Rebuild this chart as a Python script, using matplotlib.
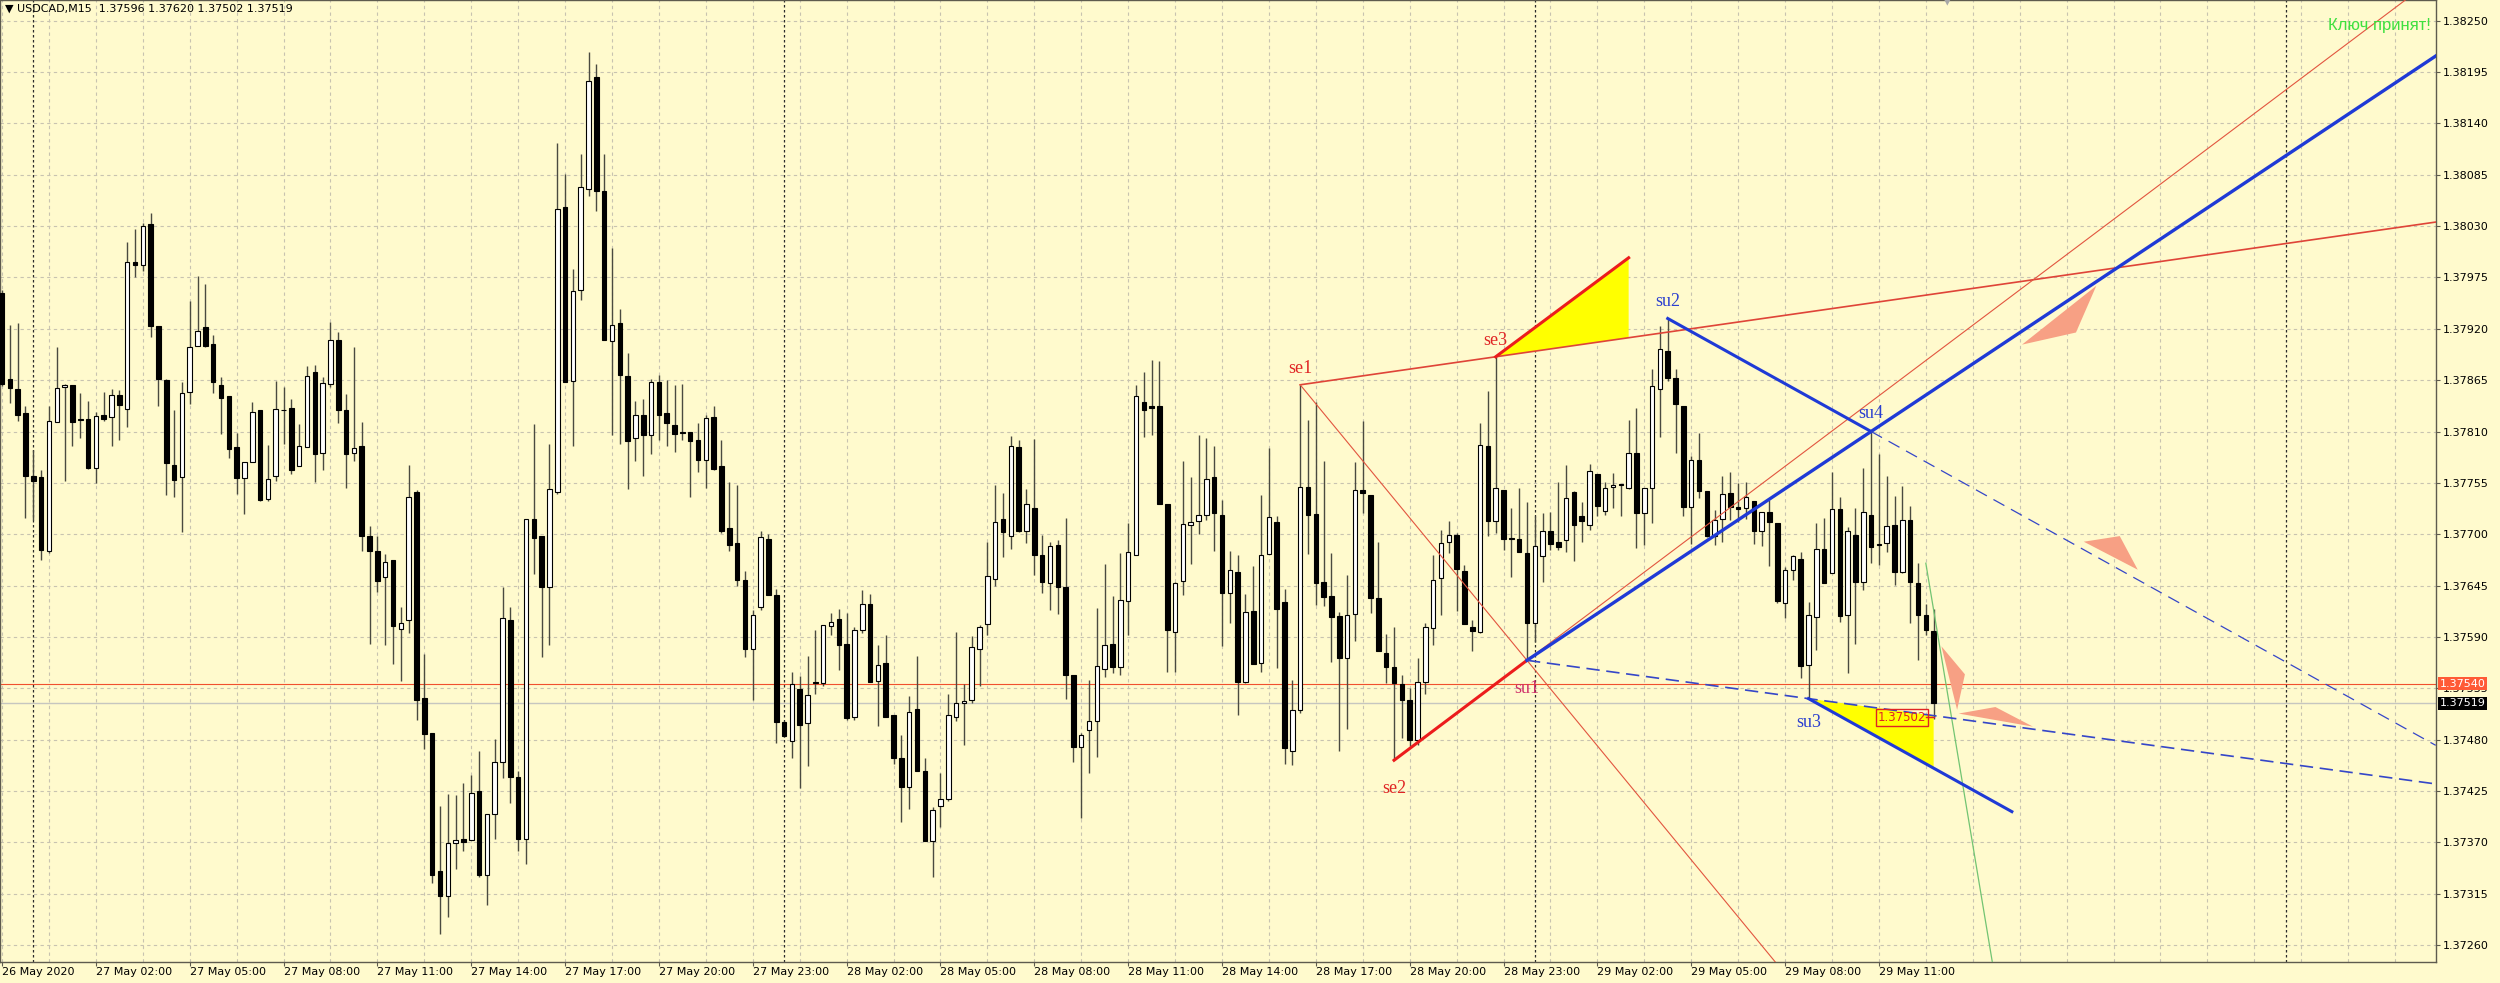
import matplotlib
matplotlib.use("Agg")
import matplotlib.pyplot as plt

# USDCAD M15, prices in points (1.37596 -> 137596), bar 0 = 26 May 23:00
opens = [
    137958, 137866, 137856, 137830, 137762, 137761, 137682, 137820, 137858, 137860, 137823, 137823,
    137771, 137828, 137825, 137849, 137834, 137991, 137988, 138032, 137923, 137865, 137774, 137761,
    137852, 137902, 137922, 137904, 137860, 137848, 137793, 137760, 137777, 137833, 137738, 137762,
    137833, 137835, 137773, 137793, 137874, 137787, 137861, 137908, 137833, 137787, 137795, 137698,
    137682, 137654, 137672, 137599, 137608, 137745, 137525, 137487, 137339, 137313, 137369, 137374,
    137373, 137425, 137335, 137400, 137456, 137608, 137440, 137374, 137716, 137698, 137644, 137745,
    138050, 137864, 137962, 138070, 138190, 138067, 137907, 137926, 137869, 137803, 137828, 137806,
    137863, 137830, 137817, 137809, 137810, 137801, 137779, 137825, 137773, 137707, 137691, 137651,
    137577, 137622, 137695, 137635, 137499, 137479, 137534, 137498, 137542, 137541, 137602, 137609,
    137582, 137504, 137597, 137625, 137543, 137562, 137506, 137460, 137429, 137513, 137446, 137372,
    137409, 137416, 137504, 137519, 137522, 137577, 137604, 137652, 137716, 137698, 137793, 137703,
    137728, 137678, 137648, 137688, 137643, 137549, 137472, 137490, 137500, 137556, 137582, 137558,
    137628, 137678, 137842, 137837, 137837, 137732, 137595, 137650, 137710, 137714, 137721, 137761,
    137721, 137637, 137660, 137542, 137618, 137562, 137679, 137713, 137627, 137468, 137512, 137751,
    137722, 137649, 137634, 137612, 137567, 137615, 137747, 137742, 137632, 137573, 137558, 137540,
    137522, 137480, 137542, 137600, 137653, 137692, 137699, 137661, 137601, 137595, 137795, 137714,
    137747, 137696, 137695, 137680, 137605, 137677, 137703, 137692, 137694, 137745, 137719, 137710,
    137765, 137725, 137751, 137754, 137749, 137787, 137723, 137749, 137856, 137896, 137867, 137837,
    137729, 137779, 137746, 137698, 137716, 137744, 137729, 137728, 137736, 137704, 137724, 137712,
    137626, 137662, 137673, 137560, 137611, 137684, 137658, 137727, 137613, 137699, 137649, 137721,
    137690, 137691, 137710, 137660, 137715, 137648, 137614, 137596,
]
highs = [
    137961, 137924, 137926, 137837, 137790, 137769, 137837, 137900, 137861, 137860, 137851, 137843,
    137831, 137852, 137855, 137854, 138013, 138027, 138033, 138044, 137923, 137866, 137833, 137863,
    137950, 137976, 137968, 137913, 137868, 137848, 137808, 137777, 137842, 137833, 137796, 137864,
    137858, 137845, 137818, 137880, 137881, 137868, 137927, 137916, 137850, 137901, 137820, 137709,
    137698, 137679, 137672, 137622, 137774, 137747, 137572, 137487, 137409, 137422, 137421, 137434,
    137442, 137468, 137400, 137481, 137644, 137622, 137447, 137716, 137818, 137698, 137797, 138119,
    138086, 137984, 138107, 138216, 138204, 138107, 138007, 137941, 137894, 137843, 137845, 137866,
    137870, 137865, 137860, 137861, 137810, 137819, 137828, 137837, 137801, 137756, 137753, 137661,
    137619, 137703, 137700, 137641, 137500, 137553, 137548, 137570, 137598, 137603, 137616, 137620,
    137616, 137601, 137640, 137636, 137581, 137592, 137506, 137485, 137527, 137570, 137460, 137408,
    137444, 137529, 137595, 137540, 137591, 137603, 137692, 137753, 137744, 137805, 137801, 137748,
    137802, 137699, 137692, 137694, 137717, 137549, 137487, 137544, 137621, 137668, 137634, 137680,
    137712, 137860, 137874, 137887, 137885, 137732, 137649, 137778, 137761, 137806, 137803, 137794,
    137737, 137682, 137678, 137636, 137666, 137742, 137792, 137720, 137641, 137544, 137860, 137822,
    137842, 137778, 137680, 137617, 137656, 137777, 137821, 137742, 137692, 137593, 137601, 137549,
    137535, 137568, 137605, 137678, 137705, 137714, 137701, 137667, 137608, 137819, 137853, 137890,
    137747, 137728, 137750, 137735, 137720, 137723, 137724, 137756, 137774, 137746, 137735, 137775,
    137765, 137756, 137766, 137754, 137822, 137835, 137749, 137877, 137923, 137931, 137877, 137837,
    137784, 137808, 137746, 137726, 137762, 137767, 137755, 137756, 137736, 137724, 137737, 137712,
    137665, 137678, 137681, 137627, 137712, 137717, 137767, 137740, 137708, 137728, 137771, 137810,
    137786, 137762, 137741, 137752, 137730, 137669, 137625, 137620,
]
lows = [
    137859, 137841, 137821, 137717, 137715, 137672, 137680, 137820, 137757, 137794, 137803, 137770,
    137755, 137821, 137794, 137801, 137815, 137975, 137982, 137911, 137837, 137742, 137740, 137702,
    137839, 137902, 137901, 137851, 137807, 137782, 137743, 137722, 137777, 137736, 137736, 137757,
    137797, 137765, 137773, 137793, 137756, 137769, 137858, 137819, 137750, 137778, 137682, 137583,
    137638, 137581, 137561, 137543, 137594, 137501, 137470, 137327, 137272, 137290, 137342, 137361,
    137373, 137333, 137303, 137374, 137439, 137412, 137361, 137347, 137657, 137569, 137581, 137743,
    137863, 137795, 137951, 138062, 138046, 137908, 137806, 137797, 137748, 137778, 137762, 137786,
    137801, 137794, 137788, 137801, 137740, 137767, 137750, 137769, 137701, 137682, 137645, 137569,
    137522, 137619, 137635, 137477, 137483, 137460, 137428, 137452, 137529, 137538, 137592, 137555,
    137501, 137501, 137594, 137542, 137495, 137504, 137454, 137392, 137406, 137446, 137372, 137333,
    137387, 137414, 137500, 137474, 137519, 137538, 137592, 137645, 137676, 137684, 137702, 137691,
    137656, 137637, 137619, 137615, 137524, 137456, 137396, 137444, 137462, 137547, 137551, 137549,
    137592, 137678, 137804, 137806, 137732, 137552, 137553, 137635, 137668, 137700, 137715, 137682,
    137580, 137605, 137506, 137541, 137561, 137553, 137679, 137557, 137454, 137453, 137509, 137679,
    137624, 137623, 137563, 137468, 137491, 137586, 137723, 137616, 137575, 137541, 137458, 137482,
    137473, 137474, 137529, 137581, 137614, 137680, 137618, 137604, 137575, 137594, 137698, 137701,
    137683, 137654, 137681, 137565, 137585, 137649, 137683, 137683, 137681, 137671, 137692, 137705,
    137720, 137721, 137728, 137719, 137748, 137685, 137688, 137712, 137804, 137864, 137787, 137719,
    137690, 137739, 137697, 137688, 137692, 137715, 137713, 137716, 137690, 137687, 137666, 137626,
    137610, 137651, 137546, 137524, 137576, 137648, 137658, 137606, 137551, 137583, 137640, 137669,
    137667, 137681, 137646, 137659, 137605, 137565, 137592, 137502,
]
closes = [
    137861, 137857, 137828, 137762, 137757, 137683, 137821, 137857, 137860, 137820, 137822, 137771,
    137827, 137823, 137849, 137838, 137992, 137988, 138030, 137923, 137866, 137776, 137758, 137851,
    137901, 137918, 137902, 137863, 137846, 137791, 137760, 137777, 137831, 137737, 137759, 137834,
    137833, 137769, 137794, 137869, 137786, 137862, 137908, 137833, 137786, 137792, 137698, 137682,
    137650, 137670, 137602, 137605, 137740, 137523, 137486, 137335, 137313, 137369, 137373, 137371,
    137423, 137335, 137400, 137456, 137610, 137440, 137374, 137716, 137696, 137643, 137748, 138048,
    137863, 137960, 138072, 138185, 138067, 137908, 137924, 137870, 137800, 137828, 137806, 137863,
    137828, 137819, 137807, 137808, 137800, 137779, 137824, 137770, 137704, 137689, 137651, 137577,
    137613, 137697, 137635, 137499, 137484, 137540, 137496, 137528, 137541, 137603, 137606, 137581,
    137503, 137598, 137625, 137542, 137560, 137504, 137460, 137429, 137510, 137446, 137372, 137405,
    137416, 137506, 137519, 137521, 137579, 137601, 137655, 137713, 137702, 137794, 137704, 137732,
    137678, 137649, 137687, 137643, 137549, 137472, 137485, 137500, 137559, 137581, 137558, 137630,
    137681, 137848, 137833, 137835, 137732, 137597, 137648, 137711, 137713, 137721, 137759, 137723,
    137637, 137662, 137542, 137617, 137561, 137678, 137718, 137620, 137471, 137512, 137751, 137721,
    137648, 137633, 137611, 137567, 137614, 137747, 137744, 137632, 137575, 137558, 137541, 137522,
    137480, 137542, 137601, 137651, 137691, 137699, 137663, 137604, 137596, 137796, 137714, 137749,
    137695, 137695, 137681, 137605, 137687, 137703, 137690, 137686, 137739, 137710, 137714, 137768,
    137730, 137749, 137753, 137753, 137787, 137723, 137749, 137859, 137898, 137867, 137839, 137729,
    137780, 137746, 137698, 137715, 137743, 137729, 137727, 137740, 137703, 137724, 137713, 137628,
    137662, 137677, 137559, 137613, 137684, 137648, 137727, 137612, 137703, 137649, 137724, 137686,
    137688, 137709, 137660, 137715, 137649, 137613, 137598, 137519,
]

time_tick_bars = [0, 12, 24, 36, 48, 60, 72, 84, 96, 108, 120, 132, 144, 156, 168, 180, 192, 204, 216, 228, 240]
time_tick_labels = [
    "26 May 2020", "27 May 02:00", "27 May 05:00", "27 May 08:00", "27 May 11:00", "27 May 14:00",
    "27 May 17:00", "27 May 20:00", "27 May 23:00", "28 May 02:00", "28 May 05:00", "28 May 08:00",
    "28 May 11:00", "28 May 14:00", "28 May 17:00", "28 May 20:00", "28 May 23:00", "29 May 02:00",
    "29 May 05:00", "29 May 08:00", "29 May 11:00",
]
day_sep_bars = [4, 100, 196, 292]
price_ticks = [1.37260, 1.37315, 1.37370, 1.37425, 1.37480, 1.37535, 1.37590, 1.37645, 1.37700,
               1.37755, 1.37810, 1.37865, 1.37920, 1.37975, 1.38030, 1.38085, 1.38140, 1.38195, 1.38250]
ask_price = 1.37540
bid_price = 1.37519

# pivot points of the drawn pattern
pivot_names = ["se1", "se2", "se3", "su1", "su2", "su3", "su4"]
pivot_bars = [166, 178, 191, 195, 213, 231, 239]
pivot_prices = [1.37860, 1.37458, 1.37890, 1.37565, 1.37931, 1.37524, 1.37810]
label_prices = [1.37877, 1.37428, 1.37907, 1.37535, 1.37949, 1.37498, 1.37829]
label_colors = ["#e02424", "#e02424", "#e02424", "#d0306a", "#2b3fd0", "#2b3fd0", "#2b3fd0"]

se3_target_bar, se3_target_price = 208, 1.37996
su3_channel_end_bar = 257
low_box_bar, low_box_price, low_value = 242.9, 1.37504, "1.37502"
green_bars = [246, 255]
green_prices = [1.37669, 1.37217]

arrow_bars = [[258.3, 267.8, 265.2], [266.2, 270.8, 273.1], [248.0, 251.0, 250.0], [250.2, 254.9, 259.7]]
arrow_prices = [[1.37903, 1.37966, 1.37916], [1.37692, 1.37698, 1.37662],
                [1.37580, 1.37550, 1.37512], [1.37508, 1.37515, 1.37494]]
top_marker_bars = [248.0, 249.5, 248.75]
top_marker_prices = [1.38278, 1.38278, 1.38266]

BG = "#fffacd"
GRID = "#c8c3b0"
AXC = "#5e5b4e"
RED = "#ec1c1c"
THIN_RED = "#e2553f"
BLUE = "#1f3ad6"
DBLUE = "#3546c8"
XMAX = 311.2


def pt(v):
    return v / 100000.0


def ray_point(i, j, bar):
    # price on the line through pivots i and j at a given bar
    b0, p0 = pivot_bars[i], pivot_prices[i]
    b1, p1 = pivot_bars[j], pivot_prices[j]
    return p0 + (p1 - p0) * (bar - b0) / (b1 - b0)


fig = plt.figure(figsize=(25, 9.83), dpi=100)
fig.patch.set_facecolor(BG)
ax = fig.add_axes([0.0, 0.02136, 0.97428, 0.97864])
ax.set_facecolor(BG)
ax.set_xlim(-0.26, XMAX)
ax.set_ylim(1.37242, 1.38272)

# grid
for p in price_ticks:
    ax.axhline(p, color=GRID, lw=0.8, ls=(0, (3, 3)), zorder=0)
for b in range(0, 312, 6):
    ax.axvline(b, color=GRID, lw=0.8, ls=(0, (3, 3)), zorder=0)
for b in day_sep_bars:
    ax.axvline(b, color="#2a2a2a", lw=0.9, ls=(0, (2, 2)), zorder=0.5)

ax.axhline(ask_price, color="#f0502e", lw=0.8, zorder=1)
ax.axhline(bid_price, color="#c6c6c0", lw=1.0, zorder=1)

# yellow zones
se1, se2, se3, su1, su2, su3, su4 = range(7)
ax.fill([pivot_bars[se3], se3_target_bar, se3_target_bar],
        [pivot_prices[se3], se3_target_price, ray_point(se1, se3, se3_target_bar)],
        color="#ffff00", lw=0, zorder=1.5)
slope_su24 = (pivot_prices[su4] - pivot_prices[su2]) / (pivot_bars[su4] - pivot_bars[su2])
last_bar = len(closes) - 1
ax.fill([pivot_bars[su3], last_bar, last_bar],
        [pivot_prices[su3], ray_point(su1, su3, last_bar),
         pivot_prices[su3] + slope_su24 * (last_bar - pivot_bars[su3])],
        color="#ffff00", lw=0, zorder=1.5)

# candles
xs = list(range(len(closes)))
o = [pt(v) for v in opens]
h = [pt(v) for v in highs]
l = [pt(v) for v in lows]
c = [pt(v) for v in closes]
ax.vlines(xs, l, h, colors="#4a4a40", lw=1.0, zorder=2.5)
body_bottom = [min(a, b) for a, b in zip(o, c)]
body_height = [abs(b - a) for a, b in zip(o, c)]
body_color = ["white" if b > a else "black" for a, b in zip(o, c)]
ax.bar(xs, body_height, bottom=body_bottom, width=0.58, color=body_color,
       edgecolor="black", linewidth=0.8, zorder=3)

# trend lines
ax.plot([pivot_bars[se1], XMAX], [pivot_prices[se1], ray_point(se1, se3, XMAX)],
        color="#df4438", lw=1.2, zorder=4)
ax.plot([pivot_bars[se1], 240], [pivot_prices[se1], ray_point(se1, su1, 240)],
        color=THIN_RED, lw=0.8, zorder=4)
ax.plot([pivot_bars[su1], 320], [pivot_prices[su1], ray_point(se2, su1, 320)],
        color=THIN_RED, lw=0.8, zorder=4)
ax.plot([pivot_bars[se2], pivot_bars[su1]], [pivot_prices[se2], pivot_prices[su1]],
        color=RED, lw=2.2, zorder=4.2)
ax.plot([pivot_bars[se3], se3_target_bar], [pivot_prices[se3], se3_target_price],
        color=RED, lw=2.2, zorder=4.2)
ax.plot([pivot_bars[su1], XMAX], [pivot_prices[su1], ray_point(su1, su4, XMAX)],
        color=BLUE, lw=2.4, zorder=4.3)
ax.plot([pivot_bars[su2], pivot_bars[su4]], [pivot_prices[su2], pivot_prices[su4]],
        color=BLUE, lw=2.2, zorder=4.3)
ax.plot([pivot_bars[su4], XMAX], [pivot_prices[su4], ray_point(su2, su4, XMAX)],
        color=DBLUE, lw=0.9, ls=(0, (10, 6)), zorder=4.3)
ax.plot([pivot_bars[su1], XMAX], [pivot_prices[su1], ray_point(su1, su3, XMAX)],
        color=DBLUE, lw=1.2, ls=(0, (8, 4)), zorder=4.3)
ax.plot([pivot_bars[su3], su3_channel_end_bar],
        [pivot_prices[su3], pivot_prices[su3] + slope_su24 * (su3_channel_end_bar - pivot_bars[su3])],
        color=BLUE, lw=2.2, zorder=4.3)
ax.plot(green_bars, green_prices, color="#72c472", lw=0.9, zorder=4)

for bx, py in zip(arrow_bars, arrow_prices):
    ax.fill(bx, py, color="#f7a084", lw=0, zorder=4.5)
ax.fill(top_marker_bars, top_marker_prices, color="#a8a8a8", lw=0, zorder=4.5)

for name, b, p, col in zip(pivot_names, pivot_bars, label_prices, label_colors):
    ax.text(b, p, name, color=col, fontsize=13, family="Liberation Serif",
            ha="center", va="center", zorder=5)

ax.text(low_box_bar, low_box_price, low_value, color="#e02424", fontsize=8.5, ha="center",
        va="center", zorder=6,
        bbox=dict(boxstyle="square,pad=0.15", fc="none", ec="#e02424", lw=1.0))
ax.plot([low_box_bar + 3.1, last_bar], [low_box_price, low_box_price], color="#e02424", lw=1.0, zorder=6)

ax.text(0.998, 0.974, "Ключ принят!", transform=ax.transAxes, color="#3fe03f",
        fontsize=12, family="Liberation Sans", ha="right", va="center", zorder=6)

# axes
for s in ax.spines.values():
    s.set_color(AXC)
    s.set_linewidth(1.0)
ax.yaxis.tick_right()
ax.set_yticks(price_ticks)
ax.set_yticklabels([f"{p:.5f}" for p in price_ticks])
ax.set_xticks(time_tick_bars)
ax.set_xticklabels(time_tick_labels)
ax.tick_params(axis="y", direction="out", length=3, width=0.8, color=AXC, pad=2, labelsize=8)
ax.tick_params(axis="x", direction="out", length=3, width=0.8, color=AXC, pad=0.5, labelsize=8)
for lbl in ax.get_xticklabels():
    lbl.set_ha("left")

yt = ax.get_yaxis_transform()
ax.text(1.0016, ask_price, f"{ask_price:.5f}", transform=yt, color="white",
        fontsize=8, ha="left", va="center", zorder=10, clip_on=False,
        bbox=dict(boxstyle="square,pad=0.12", fc="#ff5a36", ec="none"))
ax.text(1.0016, bid_price, f"{bid_price:.5f}", transform=yt, color="white",
        fontsize=8, ha="left", va="center", zorder=10, clip_on=False,
        bbox=dict(boxstyle="square,pad=0.12", fc="black", ec="none"))

fig.text(0.002, 1 - 9 / 983, "\u25bc USDCAD,M15  1.37596 1.37620 1.37502 1.37519",
         fontsize=8, color="black", ha="left", va="center")

fig.savefig("out.png", dpi=100, facecolor=BG)
plt.close(fig)
